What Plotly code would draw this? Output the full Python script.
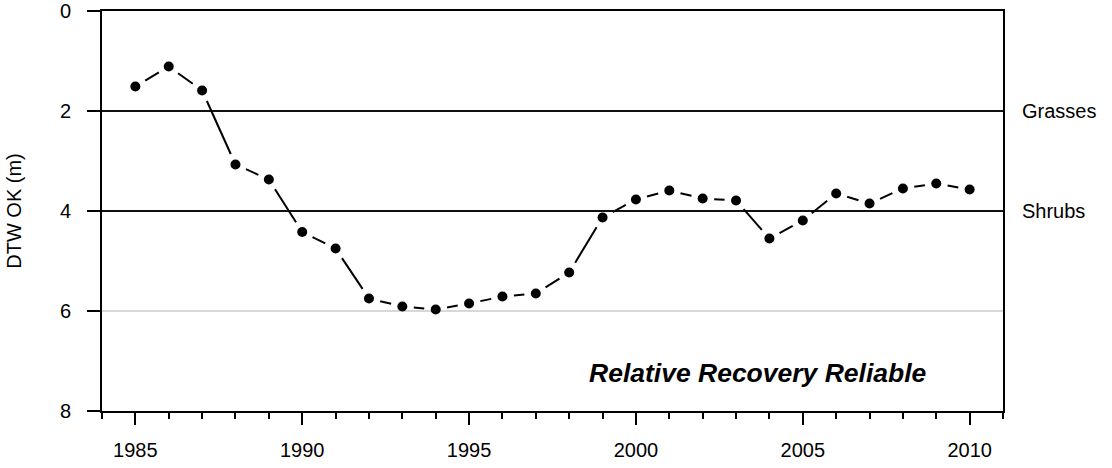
import math
import plotly.graph_objects as go

years = list(range(1985, 2011))
dtw = [1.51, 1.11, 1.59, 3.07, 3.37, 4.42, 4.75, 5.75, 5.91, 5.97, 5.85, 5.71, 5.65,
       5.23, 4.13, 3.77, 3.59, 3.75, 3.79, 4.55, 4.19, 3.65, 3.85, 3.55, 3.45, 3.57]
ref_levels = [2, 4]
ref_labels = ["Grasses", "Shrubs"]
grid_level = 6
y_ticks = [0, 2, 4, 6, 8]
x_range = [1984, 2011]
y_range = [8, 0]

W, H = 1112, 468
ML, MR, MT, MB = 102, 109, 11, 57
plot_w = W - ML - MR
plot_h = H - MT - MB
sx = plot_w / (x_range[1] - x_range[0])
sy = plot_h / abs(y_range[0] - y_range[1])
gap = 11.5

# connecting segments with gaps around markers
seg_x, seg_y = [], []
for i in range(len(years) - 1):
    x0, y0, x1, y1 = years[i], dtw[i], years[i + 1], dtw[i + 1]
    L = math.hypot((x1 - x0) * sx, (y1 - y0) * sy)
    if L <= 2 * gap:
        continue
    f = gap / L
    seg_x += [x0 + (x1 - x0) * f, x1 - (x1 - x0) * f, None]
    seg_y += [y0 + (y1 - y0) * f, y1 - (y1 - y0) * f, None]

FONT = "Liberation Sans, Arial, sans-serif"

fig = go.Figure()
fig.add_trace(go.Scatter(x=seg_x, y=seg_y, mode="lines",
                         line=dict(color="black", width=2), hoverinfo="skip",
                         showlegend=False))
fig.add_trace(go.Scatter(x=years, y=dtw, mode="markers",
                         marker=dict(color="black", size=10), showlegend=False))

shapes = []
for lv in ref_levels:
    shapes.append(dict(type="line", xref="paper", x0=0, x1=1, yref="y", y0=lv, y1=lv,
                       line=dict(color="#111111", width=2), layer="below"))
shapes.append(dict(type="line", xref="paper", x0=0, x1=1, yref="y", y0=grid_level,
                   y1=grid_level, line=dict(color="#d8d8d8", width=2), layer="below"))

annotations = []
for lv, lab in zip(ref_levels, ref_labels):
    annotations.append(dict(xref="paper", x=1 + 17 / plot_w, y=lv, yref="y",
                            text=lab, showarrow=False, xanchor="left", yanchor="middle",
                            font=dict(family=FONT, size=20, color="black")))
annotations.append(dict(xref="paper", x=(928 - ML) / plot_w, yref="paper",
                        y=1 - (372.5 - MT) / plot_h,
                        text="<b><i>Relative Recovery Reliable</i></b>", showarrow=False,
                        xanchor="right", yanchor="middle",
                        font=dict(family=FONT, size=26.5, color="black")))

fig.update_layout(
    width=W, height=H, autosize=False,
    margin=dict(l=ML, r=MR, t=MT, b=MB, pad=0, autoexpand=False),
    paper_bgcolor="white", plot_bgcolor="white",
    shapes=shapes, annotations=annotations,
    font=dict(family=FONT, size=20, color="black"),
    xaxis=dict(range=x_range, tick0=1985, dtick=5, ticks="outside", ticklen=12,
               tickwidth=2, tickcolor="black", showline=True, linewidth=2,
               linecolor="black", mirror=True, showgrid=False, zeroline=False,
               automargin=False, ticklabelstandoff=8,
               tickfont=dict(family=FONT, size=20, color="black"),
               minor=dict(dtick=1, tick0=1985, ticks="outside", ticklen=6,
                          tickwidth=2, tickcolor="black", showgrid=False)),
    yaxis=dict(range=y_range, tickvals=y_ticks, ticks="outside", ticklen=13,
               tickwidth=2, tickcolor="black", showline=True, linewidth=2,
               linecolor="black", mirror=True, showgrid=False, zeroline=False,
               automargin=False, ticklabeloverflow="allow",
               tickfont=dict(family=FONT, size=20, color="black"),
               ticklabelstandoff=12,
               title=dict(text="DTW OK (m)", font=dict(family=FONT, size=20, color="black"),
                          standoff=33)),
)

fig.write_html("out.html",
               config={"displayModeBar": False},
               post_script="document.body.style.margin='0';"
                           "document.body.style.overflow='hidden';")
